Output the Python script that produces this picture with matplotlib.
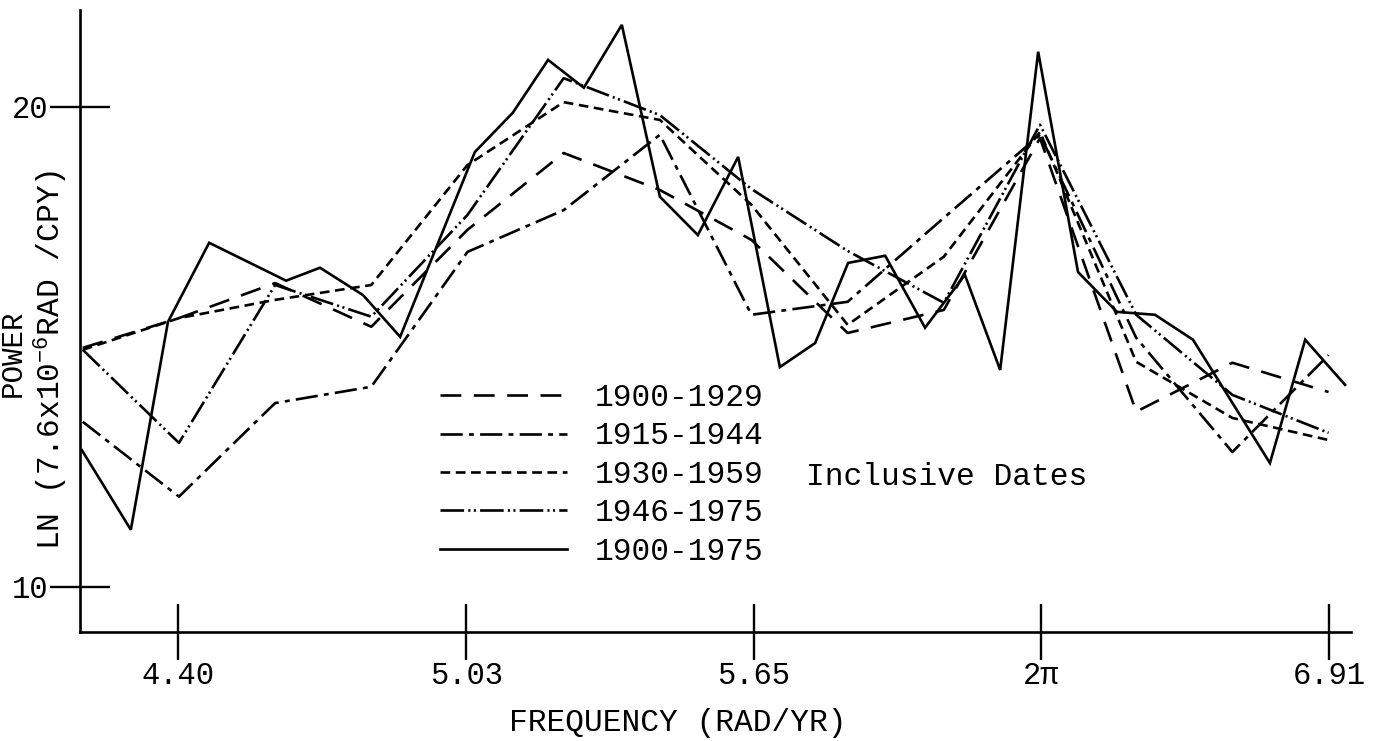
import matplotlib
matplotlib.use("Agg")
import matplotlib.pyplot as plt
import numpy as np

plt.rcParams['font.family'] = ['Liberation Mono', 'DejaVu Sans']
plt.rcParams['lines.scale_dashes'] = False
plt.rcParams['mathtext.fontset'] = 'custom'
plt.rcParams['mathtext.rm'] = 'Liberation Mono'

# ---- data ----
freq30 = [4.19, 4.40, 4.61, 4.82, 5.03, 5.24, 5.45, 5.65, 5.86, 6.07, 6.28, 6.49, 6.70, 6.91]

p1900_1929 = [14.98, 15.60, 16.33, 15.42, 17.44, 19.04, 18.27, 17.23, 15.29, 15.77, 19.35, 13.65, 14.67, 14.06]
p1915_1944 = [13.44, 11.88, 13.83, 14.17, 16.98, 17.85, 19.42, 15.67, 15.94, 17.69, 19.42, 15.19, 12.81, 14.83]
p1930_1959 = [14.94, 15.60, 15.98, 16.29, 18.79, 20.10, 19.73, 17.96, 15.46, 16.88, 19.48, 14.69, 13.52, 13.06]
p1946_1975 = [14.94, 13.00, 16.29, 15.63, 17.75, 20.60, 19.83, 18.29, 17.00, 15.92, 19.63, 15.67, 14.00, 13.21]

freq76 = [4.188, 4.295, 4.376, 4.466, 4.634, 4.708, 4.802, 4.883, 5.046, 5.129,
          5.206, 5.284, 5.367, 5.450, 5.533, 5.621, 5.712, 5.789, 5.861, 5.942,
          6.029, 6.116, 6.193, 6.276, 6.363, 6.448, 6.531, 6.614, 6.782, 6.859, 6.946]
p1900_1975 = [12.85, 11.19, 15.52, 17.17, 16.38, 16.65, 16.08, 15.21, 19.06, 19.88,
              20.98, 20.40, 21.71, 18.13, 17.33, 18.96, 14.58, 15.08, 16.75, 16.90,
              15.40, 16.50, 14.52, 21.15, 16.56, 15.73, 15.67, 15.15, 12.58, 15.15, 14.21]

xtick_vals = [4.398, 5.027, 5.655, 6.283, 6.912]
xtick_labels = ['4.40', '5.03', '5.65', '2\u03c0', '6.91']
ytick_vals = [10, 20]
ytick_labels = ['10', '20']

series = [
    ('1900-1929', freq30, p1900_1929, (0, (15, 9))),
    ('1915-1944', freq30, p1915_1944, (0, (16, 4.5, 3.5, 4.5))),
    ('1930-1959', freq30, p1930_1959, (0, (7, 4))),
    ('1946-1975', freq30, p1946_1975, (0, (17, 3, 1.5, 2.5, 1.5, 3))),
    ('1900-1975', freq76, p1900_1975, '-'),
]

FS = 22.5

W, H = 1386, 741
fig = plt.figure(figsize=(W / 100, H / 100), dpi=100)
ax = fig.add_axes([80 / W, 1 - 632 / H, (1351 - 80) / W, (632 - 10) / H])

for label, xs, ys, ls in series:
    ax.plot(xs, ys, color='black', lw=1.9, linestyle=ls, label=label,
            solid_joinstyle='miter', dash_capstyle='butt')

ax.set_xlim(4.184, 6.959)
ax.set_ylim(9.06, 22.02)

for s in ['top', 'right']:
    ax.spines[s].set_visible(False)
for s in ['left', 'bottom']:
    ax.spines[s].set_linewidth(1.9)

ax.set_xticks(xtick_vals, xtick_labels)
ax.set_yticks(ytick_vals, ytick_labels)
ax.tick_params(axis='x', direction='inout', length=40, width=1.7, pad=1, labelsize=22)
ax.tick_params(axis='y', direction='inout', length=43, width=1.7, pad=1, labelsize=22)

leg = ax.legend(loc='upper left', bbox_to_anchor=(440 / W, 1 - 383 / H),
                bbox_transform=fig.transFigure, frameon=False, fontsize=FS,
                handlelength=4.06, handletextpad=0.9, labelspacing=0.27,
                borderpad=0, borderaxespad=0)

fig.text(806 / W, 1 - 477 / H, 'Inclusive Dates', fontsize=FS, va='center', ha='left')

fig.text(678 / W, 1 - 723 / H, 'FREQUENCY (RAD/YR)', fontsize=FS, ha='center', va='center')
fig.text(13 / W, 1 - 353 / H, 'POWER', fontsize=21, rotation=90, ha='center', va='center')
fig.text(51 / W, 1 - 360 / H, r'LN (7.6x10$^{-6}$RAD /CPY)', fontsize=FS, rotation=90,
         ha='center', va='center')

fig.savefig('out.png', dpi=100, facecolor='white')
